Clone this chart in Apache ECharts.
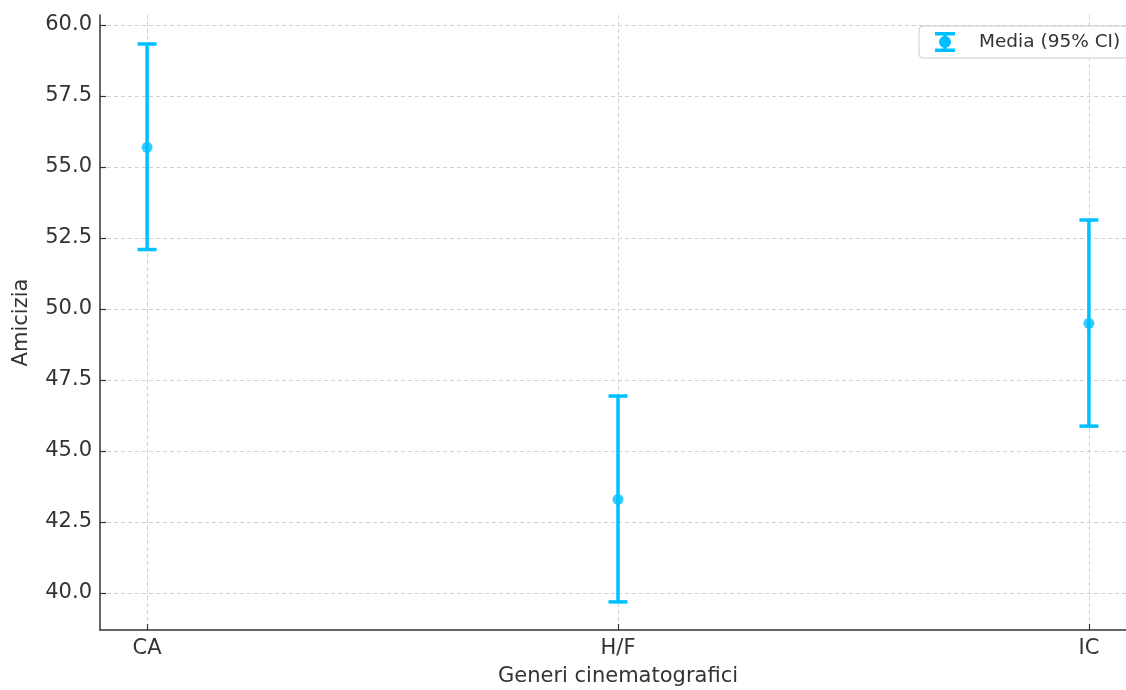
<!DOCTYPE html>
<html>
<head>
<meta charset="utf-8">
<script src="https://cdn.jsdelivr.net/npm/echarts@6/dist/echarts.min.js"></script>
<style>
  html, body { margin: 0; padding: 0; background: #fff; }
  #chart { width: 1126px; height: 690px; }
</style>
</head>
<body>
<div id="chart"></div>
<script>
// generi e intervalli di confidenza
const categories = ['CA', 'H/F', 'IC'];
const means = [55.69, 43.29, 49.49];
const lower = [52.09, 39.68, 45.87];
const upper = [59.33, 46.93, 53.13];
const yTicks = [40, 42.5, 45, 47.5, 50, 52.5, 55, 57.5, 60];
const seriesName = 'Media (95% CI)';

const color = '#00BFFF';
const font = 'DejaVu Sans';

let barData = categories.map((c, i) => [i, lower[i], upper[i]]);
let meanData = categories.map((c, i) => [i, means[i]]);

// icona della legenda: barra di errore con punto
const errIcon = 'path://M0,0 H20 V3.5 H11.75 V16.5 H20 V20 H0 V16.5 H8.25 V3.5 H0 Z M4,10 A6,6 0 1,1 16,10 A6,6 0 1,1 4,10 Z';

let option = {
  backgroundColor: '#fff',
  animation: false,
  textStyle: { fontFamily: font },
  grid: {
    left: 100,
    width: 1036,
    top: 15,
    bottom: 60,
    outerBoundsMode: 'none'
  },
  legend: {
    left: 919,
    top: 26,
    padding: [6, 12, 6, 16],
    itemWidth: 20,
    itemHeight: 21,
    borderColor: '#cccccc',
    borderWidth: 1,
    borderRadius: 4,
    backgroundColor: 'rgba(255,255,255,0.85)',
    textStyle: { fontSize: 18.5, color: '#333', fontFamily: font, padding: [0, 0, 0, 19] },
    data: [{ name: seriesName, icon: errIcon }]
  },
  xAxis: {
    type: 'value',
    min: -0.1,
    max: 2.1,
    name: 'Generi cinematografici',
    nameLocation: 'middle',
    nameGap: 36,
    nameTextStyle: { fontSize: 21, color: '#333', fontFamily: font },
    axisLine: { show: true, onZero: false, lineStyle: { color: '#333', width: 1.5 } },
    axisTick: { show: true, inside: true, length: 6, customValues: [0, 1, 2], lineStyle: { color: '#333', width: 1.2 } },
    axisLabel: {
      customValues: [0, 1, 2],
      fontSize: 21,
      color: '#333',
      margin: 8,
      formatter: v => categories[Math.round(v)]
    },
    splitLine: { show: true, lineStyle: { color: '#d0d0d0', type: [4, 3], width: 1 } }
  },
  yAxis: {
    type: 'value',
    min: 38.69,
    max: 60.35,
    name: 'Amicizia',
    nameLocation: 'middle',
    nameGap: 68,
    nameTextStyle: { fontSize: 21, color: '#333', fontFamily: font },
    axisLine: { show: true, onZero: false, lineStyle: { color: '#333', width: 1.5 } },
    axisTick: { show: true, inside: true, length: 6, customValues: yTicks, lineStyle: { color: '#333', width: 1.2 } },
    axisLabel: {
      customValues: yTicks,
      fontSize: 21,
      color: '#333',
      margin: 8,
      formatter: v => v.toFixed(1)
    },
    splitLine: { show: true, lineStyle: { color: '#d0d0d0', type: [4, 3], width: 1 } }
  },
  series: [
    {
      name: seriesName,
      type: 'custom',
      itemStyle: { color: color },
      renderItem: function (params, api) {
        let x = api.value(0);
        let top = api.coord([x, api.value(2)]);
        let bot = api.coord([x, api.value(1)]);
        let hw = 9.5;
        let style = { stroke: color, lineWidth: 3.5, fill: null };
        return {
          type: 'group',
          children: [
            { type: 'line', shape: { x1: top[0], y1: top[1], x2: bot[0], y2: bot[1] }, style: style },
            { type: 'line', shape: { x1: top[0] - hw, y1: top[1], x2: top[0] + hw, y2: top[1] }, style: style },
            { type: 'line', shape: { x1: bot[0] - hw, y1: bot[1], x2: bot[0] + hw, y2: bot[1] }, style: style }
          ]
        };
      },
      encode: { x: 0, y: [1, 2] },
      data: barData,
      z: 2
    },
    {
      name: seriesName,
      type: 'scatter',
      symbol: 'circle',
      symbolSize: 11,
      itemStyle: { color: color },
      data: meanData,
      z: 3
    }
  ]
};

let chart = echarts.init(document.getElementById('chart'));
chart.setOption(option);
</script>
</body>
</html>
